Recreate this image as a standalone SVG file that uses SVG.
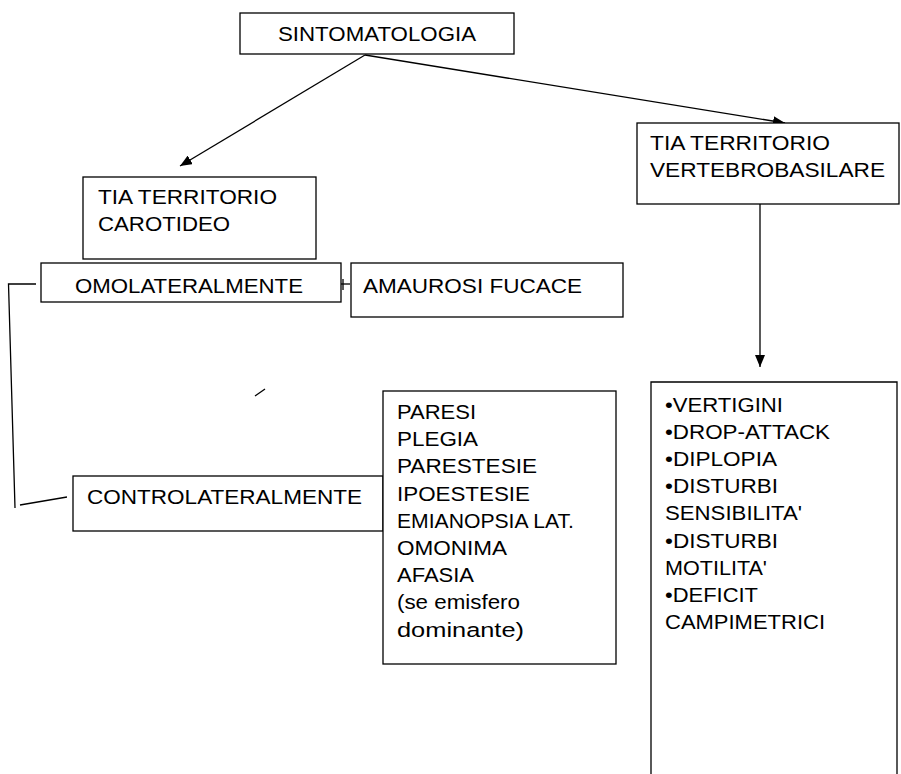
<svg xmlns="http://www.w3.org/2000/svg" width="901" height="774" viewBox="0 0 901 774">
  <style>
    .box { fill: #ffffff; stroke: #000000; stroke-width: 1.3; }
    .ln { fill: none; stroke: #000000; stroke-width: 1.3; }
    .t { font-family: "Liberation Sans", Arial, sans-serif; font-size: 20.5px; fill: #000000; }
  </style>
  <defs>
    <marker id="arrow" viewBox="0 0 12 10" refX="12" refY="5" markerWidth="12" markerHeight="10" markerUnits="userSpaceOnUse" orient="auto">
      <path d="M0,0 L12,5 L0,10 Z" fill="#000000"/>
    </marker>
  </defs>

  <!-- connectors -->
  <g id="connectors">
    <line class="ln" x1="365" y1="55" x2="180" y2="166" marker-end="url(#arrow)"/>
    <line class="ln" x1="365" y1="55" x2="785" y2="123" marker-end="url(#arrow)"/>
    <line class="ln" x1="760" y1="204" x2="760" y2="367" marker-end="url(#arrow)"/>
    <!-- bracket joining the two sides -->
    <polyline class="ln" points="36,284 8.5,284 15,508"/>
    <line class="ln" x1="20" y1="505" x2="67" y2="497"/>
    <!-- omolateral to amaurosi -->
    <line class="ln" x1="337" y1="284" x2="350" y2="284"/>
    <line class="ln" x1="343" y1="279" x2="343" y2="290"/>
    <!-- stray tick -->
    <line class="ln" x1="255" y1="396" x2="265" y2="389"/>
  </g>

  <g id="sintomatologia">
    <rect class="box" x="240" y="13" width="274" height="41"/>
    <text class="t" x="278" y="41" textLength="198" lengthAdjust="spacingAndGlyphs">SINTOMATOLOGIA</text>
  </g>

  <g id="tia-carotideo">
    <rect class="box" x="83" y="177" width="233" height="82"/>
    <text class="t" x="98" y="204" textLength="179" lengthAdjust="spacingAndGlyphs">TIA TERRITORIO</text>
    <text class="t" x="98" y="231" textLength="132" lengthAdjust="spacingAndGlyphs">CAROTIDEO</text>
  </g>

  <g id="omolateralmente">
    <rect class="box" x="41" y="263" width="300" height="39"/>
    <text class="t" x="75" y="293" textLength="228" lengthAdjust="spacingAndGlyphs">OMOLATERALMENTE</text>
  </g>

  <g id="amaurosi">
    <rect class="box" x="351" y="263" width="272" height="54"/>
    <text class="t" x="363" y="293" textLength="219" lengthAdjust="spacingAndGlyphs">AMAUROSI FUCACE</text>
  </g>

  <g id="tia-vertebrobasilare">
    <rect class="box" x="637" y="123" width="262" height="81"/>
    <text class="t" x="650" y="150" textLength="180" lengthAdjust="spacingAndGlyphs">TIA TERRITORIO</text>
    <text class="t" x="650" y="177" textLength="235" lengthAdjust="spacingAndGlyphs">VERTEBROBASILARE</text>
  </g>

  <g id="controlateralmente">
    <rect class="box" x="73" y="476" width="310" height="55"/>
    <text class="t" x="87" y="504" textLength="275" lengthAdjust="spacingAndGlyphs">CONTROLATERALMENTE</text>
  </g>

  <g id="sintomi-carotidei">
    <rect class="box" x="383" y="391" width="233" height="273"/>
    <text class="t" x="397" y="419" textLength="79" lengthAdjust="spacingAndGlyphs">PARESI</text>
    <text class="t" x="397" y="446.2" textLength="81" lengthAdjust="spacingAndGlyphs">PLEGIA</text>
    <text class="t" x="397" y="473.4" textLength="140" lengthAdjust="spacingAndGlyphs">PARESTESIE</text>
    <text class="t" x="397" y="500.6" textLength="133" lengthAdjust="spacingAndGlyphs">IPOESTESIE</text>
    <text class="t" x="397" y="527.8" textLength="177" lengthAdjust="spacingAndGlyphs">EMIANOPSIA LAT.</text>
    <text class="t" x="397" y="555" textLength="110" lengthAdjust="spacingAndGlyphs">OMONIMA</text>
    <text class="t" x="397" y="582.2" textLength="77" lengthAdjust="spacingAndGlyphs">AFASIA</text>
    <text class="t" x="397" y="609.4" textLength="123" lengthAdjust="spacingAndGlyphs">(se emisfero</text>
    <text class="t" x="397" y="636.6" textLength="127" lengthAdjust="spacingAndGlyphs">dominante)</text>
  </g>

  <g id="sintomi-vertebrobasilari">
    <path class="ln" d="M651,774 V382 H897 V774"/>
    <text class="t" x="665" y="412" textLength="118" lengthAdjust="spacingAndGlyphs">•VERTIGINI</text>
    <text class="t" x="665" y="439.1" textLength="165" lengthAdjust="spacingAndGlyphs">•DROP-ATTACK</text>
    <text class="t" x="665" y="466.2" textLength="112" lengthAdjust="spacingAndGlyphs">•DIPLOPIA</text>
    <text class="t" x="665" y="493.3" textLength="113" lengthAdjust="spacingAndGlyphs">•DISTURBI</text>
    <text class="t" x="665" y="520.4" textLength="137" lengthAdjust="spacingAndGlyphs">SENSIBILITA'</text>
    <text class="t" x="665" y="547.5" textLength="113" lengthAdjust="spacingAndGlyphs">•DISTURBI</text>
    <text class="t" x="665" y="574.6" textLength="102" lengthAdjust="spacingAndGlyphs">MOTILITA'</text>
    <text class="t" x="665" y="601.7" textLength="93" lengthAdjust="spacingAndGlyphs">•DEFICIT</text>
    <text class="t" x="665" y="628.8" textLength="160" lengthAdjust="spacingAndGlyphs">CAMPIMETRICI</text>
  </g>
</svg>
